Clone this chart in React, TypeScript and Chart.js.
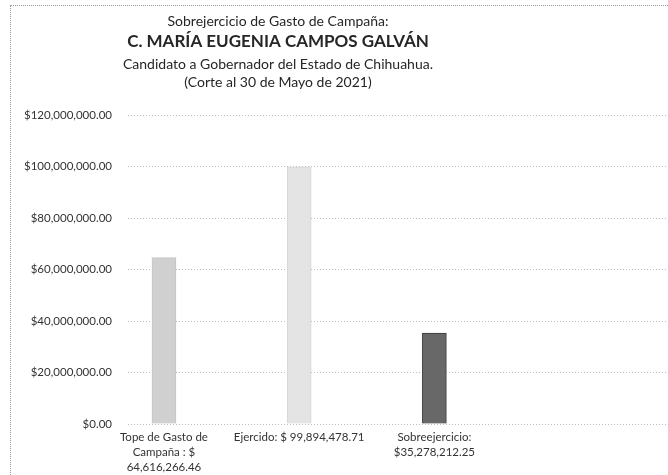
import React, { useEffect, useRef } from "react";
import { Chart, registerables } from "chart.js";

Chart.register(...registerables);

const titleLines = [
  "Sobrejercicio de Gasto de Campaña:",
  "C. MARÍA EUGENIA CAMPOS GALVÁN",
  "Candidato a Gobernador del Estado de Chihuahua.",
  "(Corte al 30 de Mayo de 2021)",
];

const categoryLabels: (string | string[])[] = [
  ["Tope de Gasto de", "Campaña : $", "64,616,266.46"],
  "Ejercido: $ 99,894,478.71",
  ["Sobreejercicio:", "$35,278,212.25"],
];

const positions = [0, 1, 2];
const values = [64616266.46, 99894478.71, 35278212.25];
const barColors = ["#d0d0d0", "#e4e4e4", "#686868"];
const barBorders = ["#c4c4c4", "#d6d6d6", "#3a3a3a"];

const yTicks = [0, 20000000, 40000000, 60000000, 80000000, 100000000, 120000000];

const fmt = (v: number) =>
  "$" +
  v.toLocaleString("en-US", { minimumFractionDigits: 2, maximumFractionDigits: 2 });

const titlePlugin = {
  id: "multiTitle",
  afterDraw(chart: any) {
    const ctx = chart.ctx;
    ctx.save();
    ctx.fillStyle = "#262626";
    ctx.textAlign = "center";
    ctx.textBaseline = "middle";
    const cx = 278;
    ctx.font = "14px Lato";
    ctx.fillText(titleLines[0], cx, 21);
    ctx.font = "bold 17px Lato";
    ctx.fillText(titleLines[1], cx, 42);
    ctx.font = "14px Lato";
    ctx.fillText(titleLines[2], cx, 64);
    ctx.fillText(titleLines[3], cx, 82);
    ctx.restore();
  },
};

export default function App() {
  const ref = useRef<HTMLCanvasElement | null>(null);
  useEffect(() => {
    if (!ref.current) return;
    const chart = new Chart(ref.current, {
      type: "bar",
      data: {
        datasets: [
          {
            data: positions.map((p, i) => ({ x: p, y: values[i] })),
            backgroundColor: barColors,
            borderColor: barBorders,
            borderWidth: 1,
            barThickness: 24,
          },
        ],
      },
      options: {
        animation: false,
        responsive: false,
        layout: { padding: { top: 115, left: 0, right: 0, bottom: 0 } },
        plugins: { legend: { display: false }, tooltip: { enabled: false }, title: { display: false } },
        scales: {
          x: {
            type: "linear",
            offset: false,
            min: -0.266,
            max: 3.728,
            afterBuildTicks: (axis: any) => {
              axis.ticks = positions.map((v) => ({ value: v }));
            },
            afterFit: (axis: any) => {
              axis.height = 51;
            },
            grid: { display: false, drawTicks: false, offset: false },
            border: { display: false },
            ticks: {
              autoSkip: false,
              maxRotation: 0,
              padding: 6,
              color: "#333333",
              font: { family: "Lato", size: 11.5, lineHeight: 1.3 },
              callback: (v: any) => {
                const i = positions.indexOf(Number(v));
                return i >= 0 ? categoryLabels[i] : "";
              },
            },
          },
          y: {
            min: 0,
            max: 120000000,
            afterBuildTicks: (axis: any) => {
              axis.ticks = yTicks.map((v) => ({ value: v }));
            },
            afterFit: (axis: any) => {
              axis.width = 128;
            },
            grid: { color: "#bdbdbd", drawTicks: false, lineWidth: 1 },
            border: { display: false, dash: [1, 2] },
            ticks: {
              padding: 16,
              color: "#333333",
              font: { family: "Lato", size: 11.5 },
              callback: (v: any) => fmt(Number(v)),
            },
          },
        },
      },
      plugins: [titlePlugin],
    });
    return () => chart.destroy();
  }, []);
  return (
    <div style={{ position: "absolute", left: 0, top: 0, width: 668, height: 475, background: "#fff" }}>
      <div
        style={{
          position: "absolute",
          left: 10,
          top: 5,
          right: 0,
          bottom: 0,
          borderLeft: "1px dotted #9a9a9a",
          borderTop: "1px dotted #9a9a9a",
        }}
      />
      <canvas ref={ref} width={668} height={475} style={{ position: "absolute", left: 0, top: 0 }} />
    </div>
  );
}
